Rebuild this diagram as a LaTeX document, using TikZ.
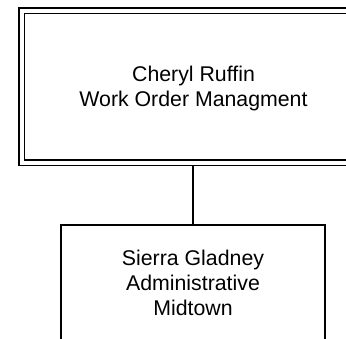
\documentclass[tikz,border=0pt]{standalone}
\usepackage{fontspec}
\setmainfont{Liberation Sans}
\begin{document}
\begin{tikzpicture}[x=1pt,y=-1pt,
  boxtext/.style={align=center,text depth=0pt,font=\fontsize{21.3}{25}\selectfont},
  topbox/.style={boxtext,draw=black,line width=1.5pt,double=white,double distance=4pt,
    minimum width=343.5pt,minimum height=152pt,inner sep=0pt,outer sep=3.5pt},
  subbox/.style={boxtext,draw=black,line width=1.5pt,minimum width=264pt,minimum height=116pt,
    inner sep=0pt,outer sep=0pt},
  link/.style={draw=black,line width=1.5pt}]
\useasboundingbox (0,0) rectangle (346,338);
\clip (0,0) rectangle (346,338);
\fill[white] (0,0) rectangle (346,338);
\node[topbox] (top) at (193.5,86.5) {Cheryl Ruffin\\Work Order Managment};
\node[subbox] (sub) at (193,283) {Sierra Gladney\\Administrative\\Midtown};
\draw[link] (top.south -| sub.north) -- (sub.north);
\end{tikzpicture}
\end{document}
